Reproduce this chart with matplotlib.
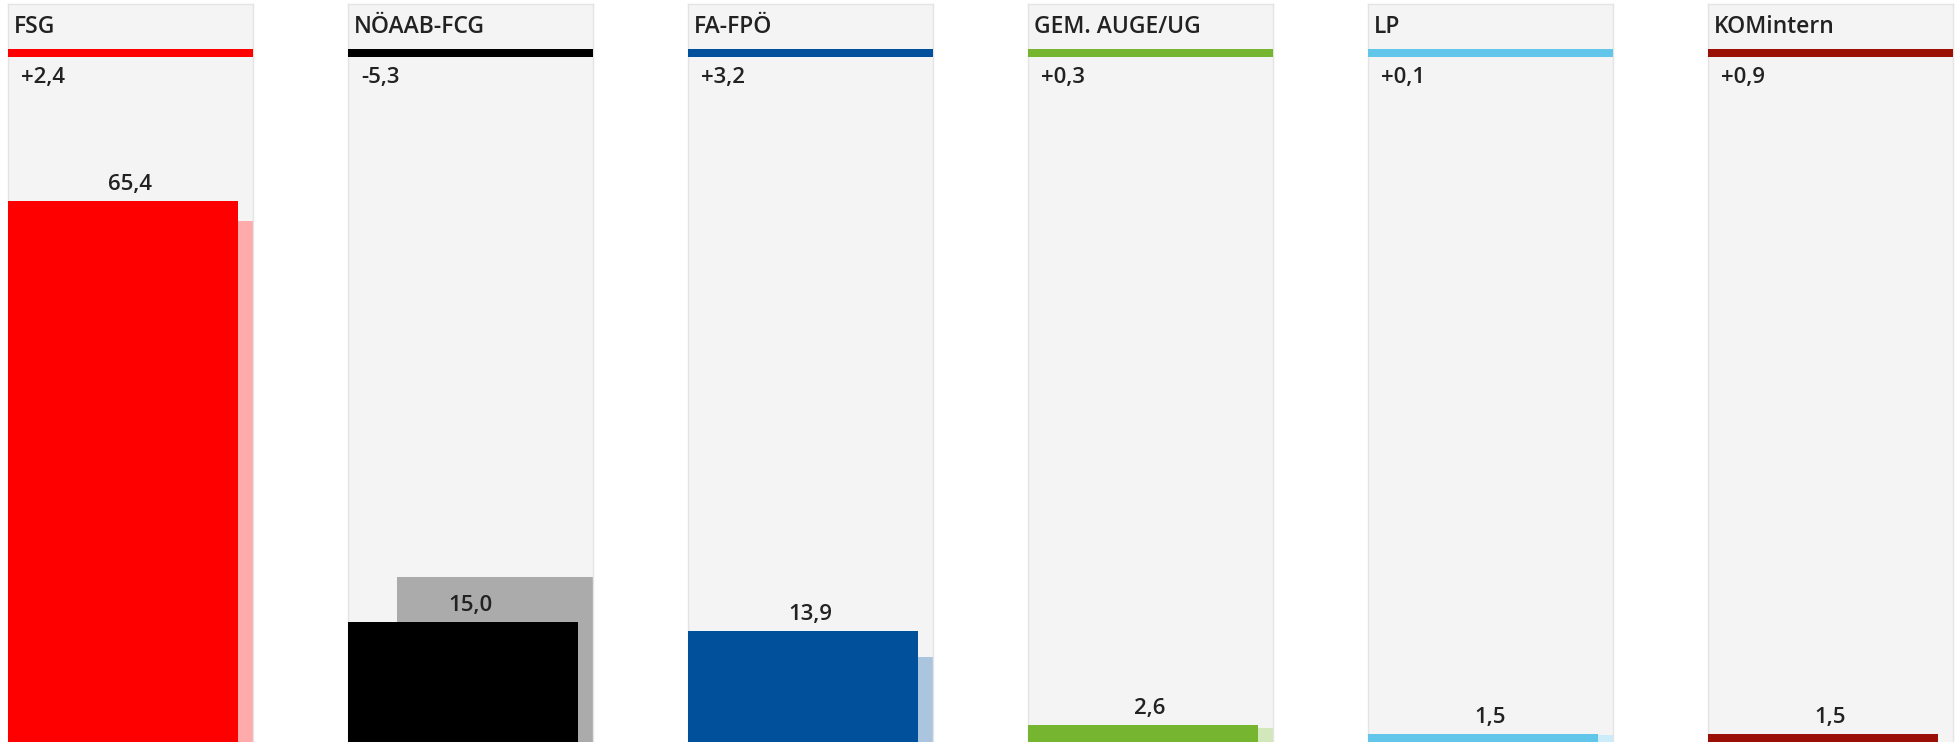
import matplotlib
matplotlib.use("Agg")
import matplotlib.pyplot as plt
from matplotlib.patches import Rectangle
import numpy as np

plt.rcParams['font.family'] = ['Open Sans', 'DejaVu Sans']

parties = ["FSG", "NÖAAB-FCG", "FA-FPÖ", "GEM. AUGE/UG", "LP", "KOMintern"]
current = [65.4, 15.0, 13.9, 2.6, 1.5, 1.5]
change = [2.4, -5.3, 3.2, 0.3, 0.1, 0.9]
colors = ["#ff0000", "#000000", "#00509c", "#76b52f", "#62c6ea", "#9b1006"]

previous = [c - d for c, d in zip(current, change)]

W, H = 1957, 742
fig = plt.figure(figsize=(W / 100, H / 100), dpi=100)
fig.patch.set_facecolor("white")

panel_w = 245
panel_step = 340
panel_left0 = 7.5
axes_top_px = 4          # from top of figure
baseline_px = 746.8      # from top of figure (below the visible image)
ax_h_px = baseline_px - axes_top_px
ymax = 89.0
txt_col = "#222222"
wt = "semibold"


def fmt(v, sign=False):
    s = f"{v:+.1f}" if sign else f"{v:.1f}"
    return s.replace(".", ",")


def lighten(c, a=0.33):
    rgb = np.array(matplotlib.colors.to_rgb(c))
    return tuple(1 - a * (1 - rgb))


for i, (p, cur, prev, ch, col) in enumerate(zip(parties, current, previous, change, colors)):
    left = panel_left0 + panel_step * i
    ax = fig.add_axes([left / W, (H - baseline_px) / H, panel_w / W, ax_h_px / H])
    ax.set_xlim(0, 1)
    ax.set_ylim(0, ymax)
    ax.set_facecolor("#f4f4f4")
    for s in ax.spines.values():
        s.set_color("#e4e4e4")
        s.set_linewidth(1)
    ax.set_xticks([])
    ax.set_yticks([])

    ax.bar(0.204, prev, width=0.796, align="edge", color=lighten(col), zorder=2, linewidth=0)
    ax.bar(0.0, cur, width=0.939, align="edge", color=col, zorder=3, linewidth=0)

    ax.annotate(fmt(cur), xy=(0.5, cur), xytext=(0, 11), textcoords="offset pixels",
                ha="center", va="baseline", fontsize=16, color=txt_col, zorder=4,
                fontweight=wt)

    def fy(px_below_top):
        return 1 - px_below_top / ax_h_px

    ax.text(6 / panel_w, fy(29), p, transform=ax.transAxes, ha="left", va="baseline",
            fontsize=16.5, color=txt_col, fontweight=wt)
    ax.add_patch(Rectangle((0, fy(53)), 1, 8 / ax_h_px, transform=ax.transAxes,
                           color=col, linewidth=0, zorder=5, clip_on=False))
    ax.text(14 / panel_w, fy(79), fmt(ch, sign=True), transform=ax.transAxes,
            ha="left", va="baseline", fontsize=16, color=txt_col, fontweight=wt)

fig.savefig("out.png", dpi=100)
